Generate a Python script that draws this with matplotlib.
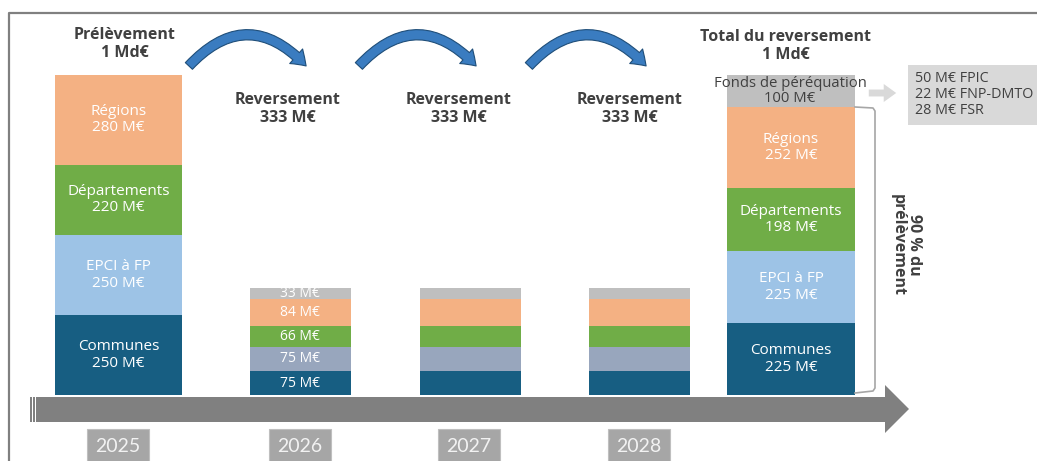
"""Prélèvement 2025 et reversement 2026-2028 : schéma en barres empilées."""

import matplotlib
matplotlib.use("Agg")
import matplotlib.pyplot as plt
from matplotlib.patches import FancyArrowPatch, Rectangle, Polygon

# --- data (M€) ---------------------------------------------------------------
years = ["2025", "2026", "2027", "2028"]
segments = ["Communes", "EPCI à FP", "Départements", "Régions"]
prelevement = [250, 250, 220, 280]                  # 2025, bottom -> top
reversement = [75, 75, 66, 84, 33]                  # each of 2026/27/28, + fonds
reversement_labels = ["75 M€", "75 M€", "66 M€", "84 M€", "33 M€"]
total_segments = ["Communes", "EPCI à FP", "Départements", "Régions"]
total = [225, 225, 198, 252]
fonds_total = 100
fonds_detail = ["50 M€ FPIC", "22 M€ FNP-DMTO", "28 M€ FSR"]

C_COM = "#175E82"
C_EPCI = "#9DC3E6"
C_EPCI_REV = "#98A6BD"
C_DEP = "#70AD47"
C_REG = "#F4B183"
C_FONDS = "#BFBFBF"
DARK = "#404040"
FONT = "Open Sans"

W, H = 1037, 461
BASE = 395          # baseline pixel row
PX_PER_ME = 0.32    # 1 M€ -> 0.32 px

fig = plt.figure(figsize=(W / 100, H / 100), dpi=100)
# bars in M€
ax = fig.add_axes([0, 0, 1, 1])
ax.set_xlim(0, W)
ax.set_ylim(-(H - BASE) / PX_PER_ME, BASE / PX_PER_ME)
ax.axis("off")
# layout layer in pixels (y down)
lay = fig.add_axes([0, 0, 1, 1], facecolor="none")
lay.set_xlim(0, W)
lay.set_ylim(H, 0)
lay.axis("off")


def stack(xc, width, vals, colors, labels=None, fs=11):
    bottom = 0
    for i, (v, c) in enumerate(zip(vals, colors)):
        ax.bar(xc, v, width, bottom=bottom, color=c, linewidth=0)
        if labels and labels[i]:
            ax.text(xc, bottom + v / 2, labels[i], ha="center", va="center",
                    color="white", fontsize=fs, family=FONT, linespacing=1.1)
        bottom += v
    return bottom


# 2025 prélèvement
stack(118.5, 127, prelevement, [C_COM, C_EPCI, C_DEP, C_REG],
      [f"{s}\n{v} M€" for s, v in zip(segments, prelevement)])

# 2026-2028 reversements
rev_colors = [C_COM, C_EPCI_REV, C_DEP, C_REG, C_FONDS]
for i, xc in enumerate([300, 470, 639]):
    stack(xc, 101, reversement, rev_colors,
          reversement_labels if i == 0 else None, fs=10)

# total du reversement
top = stack(791, 128, total, [C_COM, C_EPCI, C_DEP, C_REG],
            [f"{s}\n{v} M€" for s, v in zip(total_segments, total)])
ax.bar(791, fonds_total, 128, bottom=top, color=C_FONDS, linewidth=0)
ax.text(790, top + fonds_total / 2, f"Fonds de péréquation\n{fonds_total} M€",
        ha="center", va="center", color=DARK, fontsize=10.7, family=FONT,
        linespacing=1.0)

# --- frame ---------------------------------------------------------------------
lay.plot([9, 9, W], [H, 13, 13], color="#808080", lw=1.6, solid_capstyle="butt")

# --- headers -------------------------------------------------------------------
hdr = dict(ha="center", va="center", color=DARK, fontsize=11.5,
           fontweight="bold", family=FONT, linespacing=1.2)
lay.text(125, 44, "Prélèvement\n1 Md€", **hdr)
for xc in [288, 459, 630]:
    lay.text(xc, 109, "Reversement\n333 M€", **hdr)
lay.text(786, 46, "Total du reversement\n1 Md€", **hdr)

# curved arrows
for x0 in [187, 357, 527]:
    arr = FancyArrowPatch((x0, 68), (x0 + 121, 68),
                          connectionstyle="arc3,rad=-0.55",
                          arrowstyle="simple,head_length=10,head_width=14,tail_width=7",
                          facecolor="#3A7CC0", edgecolor="#1F4E79", lw=0.8,
                          mutation_scale=1)
    lay.add_patch(arr)

# --- fonds de péréquation detail -------------------------------------------------
lay.add_patch(FancyArrowPatch((866, 93), (899, 93),
                              arrowstyle="simple,head_length=9,head_width=13,tail_width=5",
                              facecolor="#D9D9D9", edgecolor="none", mutation_scale=1))
lay.add_patch(Rectangle((908, 65), 140, 60, facecolor="#D9D9D9", edgecolor="none"))
for j, t in enumerate(fonds_detail):
    lay.text(915, 78 + j * 16, t, ha="left", va="center", color=DARK,
             fontsize=10.3, family=FONT)

# bracket "90 % du prélèvement"
lay.plot([855, 873, 875, 875, 873, 855], [107, 108, 111, 388, 391, 393],
         color="#A6A6A6", lw=1.2)
lay.text(906, 245, "90 % du\nprélèvement", rotation=-90, ha="center", va="center",
         color=DARK, fontsize=11.5, fontweight="bold", family=FONT, linespacing=1.0)

# --- timeline ------------------------------------------------------------------
lay.add_patch(Polygon([(36, 397), (885, 397), (885, 385), (909, 409),
                       (885, 433), (885, 422), (36, 422)],
                      closed=True, facecolor="#808080", edgecolor="none"))
for xs in [30, 33]:
    lay.add_patch(Rectangle((xs, 397), 1.6, 25, facecolor="#808080", edgecolor="none"))

for yr, xc in zip(years, [118, 300, 469, 639]):
    lay.add_patch(Rectangle((xc - 31, 429), 62, 34, facecolor="#A6A6A6",
                            edgecolor="#BFBFBF", lw=0.8))
    lay.text(xc, 446, yr, ha="center", va="center", color="#F2F2F2",
             fontsize=14, family="Lato")

fig.savefig("out.png", dpi=100)
